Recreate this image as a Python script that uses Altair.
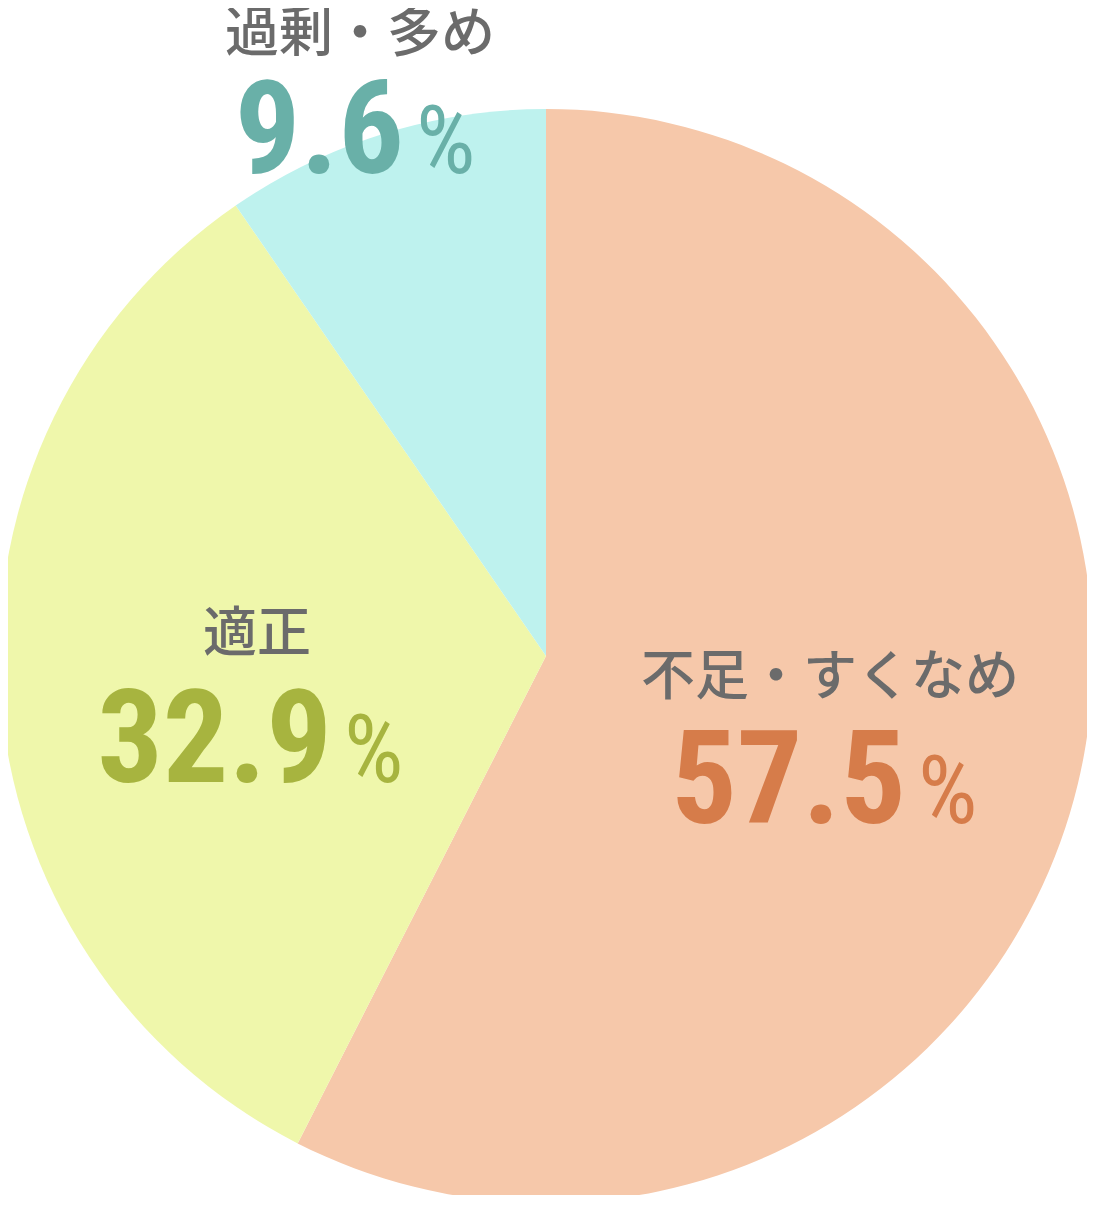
import altair as alt
import pandas as pd

categories = ["不足・すくなめ", "適正", "過剰・多め"]
values = [57.5, 32.9, 9.6]
order_idx = [0, 1, 2]
slice_colors = ["#F6C8AA", "#EFF7AB", "#BEF2EE"]
number_colors = ["#D67C4A", "#A7B43F", "#69B0A8"]
label_color = "#6B6B6B"

df = pd.DataFrame({"category": categories, "value": values, "idx": order_idx})

W, H = 1079, 1187
CX, CY, R = 538, 648, 547

NUM_FONT = "'Liberation Sans Narrow', 'Roboto Condensed', 'DejaVu Sans Condensed', Roboto"

base = alt.Chart(df)

pie = base.mark_arc(outerRadius=R, stroke=None).encode(
    x=alt.value(CX),
    y=alt.value(CY),
    theta=alt.Theta("value:Q", stack=True),
    order=alt.Order("idx:Q"),
    color=alt.Color("category:N", scale=alt.Scale(domain=categories, range=slice_colors), legend=None),
)

# annotation placement per category
label_pos = {
    "不足・すくなめ": dict(lx=822, ly=671, nx=898, px=910, by=815),
    "適正": dict(lx=249, ly=628, nx=324, px=336, by=774),
    "過剰・多め": dict(lx=352, ly=28, nx=396, px=408, by=165),
}

layers = [pie]
for cat, ncol in zip(categories, number_colors):
    p = label_pos[cat]
    sub = base.transform_filter(alt.datum.category == cat)
    name = sub.mark_text(
        font="Noto Sans CJK JP", fontSize=54, fontWeight=500,
        align="center", baseline="middle", color=label_color,
    ).encode(x=alt.value(p["lx"]), y=alt.value(p["ly"]), text="category:N")
    num = sub.mark_text(
        font=NUM_FONT, fontSize=130, fontWeight="bold",
        align="right", baseline="alphabetic", color=ncol,
    ).encode(x=alt.value(p["nx"]), y=alt.value(p["by"]), text=alt.Text("value:Q", format=".1f"))
    pct = sub.mark_text(
        font=NUM_FONT, fontSize=94, fontWeight="normal",
        align="left", baseline="alphabetic", color=ncol,
    ).encode(x=alt.value(p["px"]), y=alt.value(p["by"]), text=alt.value("%"))
    layers += [name, num, pct]

chart = alt.layer(*layers).properties(
    width=W, height=H,
    autosize=alt.AutoSizeParams(type="none"),
    padding=0,
    background="white",
).configure_view(stroke=None)

chart.save("out.html", embed_options={"renderer": "svg", "actions": False})
